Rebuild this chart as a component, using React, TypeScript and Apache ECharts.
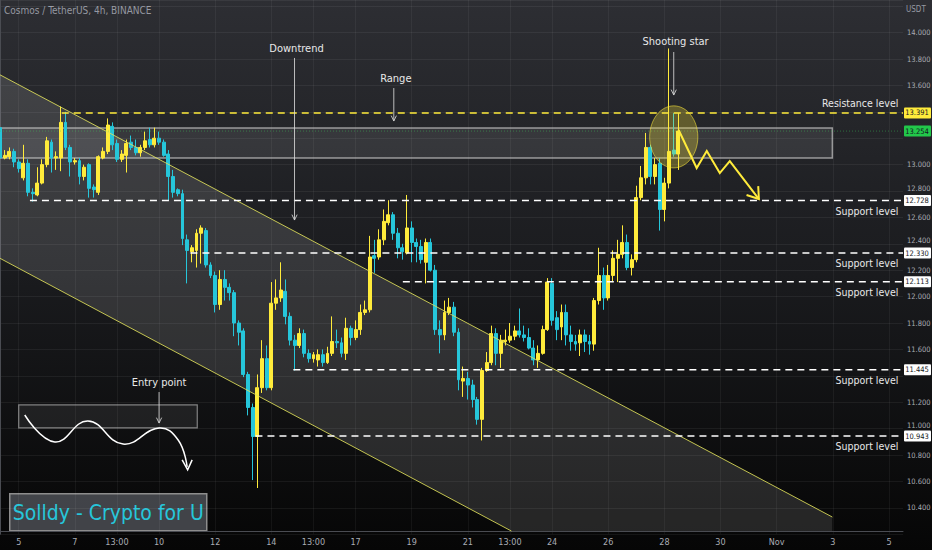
import React, { useEffect, useRef } from "react";
import * as echarts from "echarts";

// ---------- data ----------
const SLOT_COUNT = 194; // 4h slots from Oct 4 08:00
const slotLabels: Record<number, string> = {
  4: "5", 16: "7", 25: "13:00", 34: "10", 46: "12", 58: "14", 67: "13:00", 76: "17",
  88: "19", 100: "21", 109: "13:00", 118: "24", 130: "26", 142: "28", 154: "30",
  166: "Nov", 178: "3", 190: "5",
};

// [open, close, low, high]
const ohlc: number[][] = [
  [13.28, 13.05, 13.04, 13.30], [13.05, 13.07, 13.04, 13.11], [13.06, 13.10, 13.04, 13.13], [13.10, 13.02, 12.98, 13.12],
  [13.02, 12.97, 12.94, 13.04], [12.90, 13.01, 12.88, 13.15], [13.01, 12.79, 12.76, 13.04], [12.79, 12.78, 12.72, 12.82],
  [12.77, 12.86, 12.76, 12.98], [12.86, 13.00, 12.85, 13.04], [13.00, 13.18, 12.98, 13.21], [13.17, 13.05, 12.94, 13.19],
  [13.05, 13.06, 12.96, 13.10], [13.05, 13.32, 12.95, 13.44], [13.32, 13.13, 13.11, 13.40], [13.13, 13.02, 12.91, 13.15],
  [13.02, 13.03, 13.00, 13.05], [13.03, 12.91, 12.85, 13.05], [12.91, 12.98, 12.88, 13.00], [13.00, 12.82, 12.75, 13.01],
  [12.83, 12.81, 12.75, 12.85], [12.79, 13.06, 12.77, 13.07], [13.05, 13.10, 13.04, 13.13], [13.10, 13.30, 13.08, 13.35],
  [13.29, 13.15, 13.11, 13.32], [13.16, 13.04, 13.02, 13.19], [13.04, 13.08, 13.02, 13.11], [13.07, 13.16, 12.94, 13.19],
  [13.17, 13.13, 13.11, 13.22], [13.13, 13.09, 13.07, 13.19], [13.09, 13.13, 13.06, 13.15], [13.13, 13.18, 13.11, 13.25],
  [13.19, 13.15, 13.13, 13.28], [13.15, 13.20, 13.13, 13.28], [13.20, 13.17, 13.15, 13.25], [13.17, 13.07, 13.06, 13.19],
  [13.08, 12.91, 12.73, 13.11], [12.91, 12.79, 12.75, 12.96], [12.81, 12.78, 12.76, 12.82], [12.78, 12.44, 12.39, 12.81],
  [12.43, 12.35, 12.10, 12.47], [12.34, 12.37, 12.26, 12.39], [12.35, 12.48, 12.22, 12.51], [12.48, 12.52, 12.25, 12.54],
  [12.50, 12.24, 12.22, 12.52], [12.24, 12.16, 12.14, 12.26], [12.16, 11.94, 11.88, 12.19], [11.94, 12.13, 11.90, 12.20],
  [12.13, 12.07, 11.97, 12.20], [12.07, 12.03, 11.97, 12.10], [12.03, 11.80, 11.70, 12.05], [11.80, 11.73, 11.63, 11.82],
  [11.74, 11.41, 11.39, 11.76], [11.41, 11.16, 11.10, 11.43], [11.16, 10.94, 10.61, 11.19], [10.94, 11.31, 10.55, 11.41],
  [11.31, 11.53, 11.27, 11.67], [11.53, 11.31, 11.29, 11.63], [11.31, 11.95, 11.29, 12.11], [11.95, 11.99, 11.90, 12.13],
  [11.99, 12.05, 11.96, 12.26], [12.04, 11.85, 11.79, 12.13], [11.85, 11.67, 11.63, 11.88], [11.67, 11.63, 11.44, 11.71],
  [11.63, 11.72, 11.61, 11.76], [11.72, 11.57, 11.54, 11.75], [11.57, 11.53, 11.50, 11.60], [11.53, 11.56, 11.50, 11.58],
  [11.52, 11.56, 11.47, 11.60], [11.56, 11.50, 11.47, 11.60], [11.50, 11.57, 11.49, 11.62], [11.57, 11.66, 11.55, 11.85],
  [11.66, 11.65, 11.61, 11.75], [11.65, 11.57, 11.54, 11.69], [11.57, 11.76, 11.52, 11.84], [11.76, 11.69, 11.63, 11.78],
  [11.69, 11.75, 11.67, 11.82], [11.75, 11.88, 11.71, 11.94], [11.88, 11.90, 11.86, 11.97], [11.90, 12.30, 11.88, 12.46],
  [12.31, 12.29, 12.18, 12.43], [12.30, 12.43, 12.28, 12.51], [12.43, 12.57, 12.39, 12.66], [12.56, 12.62, 12.54, 12.73],
  [12.62, 12.48, 12.43, 12.64], [12.48, 12.37, 12.29, 12.52], [12.37, 12.34, 12.28, 12.40], [12.33, 12.52, 12.32, 12.77],
  [12.52, 12.41, 12.26, 12.57], [12.41, 12.38, 12.26, 12.44], [12.38, 12.28, 12.25, 12.43], [12.26, 12.41, 12.10, 12.44],
  [12.41, 12.20, 12.19, 12.44], [12.20, 11.75, 11.71, 12.24], [11.75, 11.71, 11.57, 11.82], [11.71, 11.88, 11.67, 11.97],
  [11.88, 11.92, 11.86, 11.99], [11.92, 11.73, 11.70, 11.96], [11.73, 11.37, 11.29, 11.76], [11.36, 11.38, 11.24, 11.47],
  [11.38, 11.33, 11.22, 11.43], [11.33, 11.22, 11.16, 11.37], [11.22, 11.07, 11.03, 11.24], [11.07, 11.44, 10.91, 11.46],
  [11.44, 11.50, 11.43, 11.58], [11.50, 11.72, 11.48, 11.78], [11.72, 11.57, 11.48, 11.76], [11.57, 11.67, 11.46, 11.71],
  [11.66, 11.67, 11.63, 11.75], [11.67, 11.70, 11.65, 11.80], [11.70, 11.74, 11.67, 11.78], [11.74, 11.71, 11.69, 11.91],
  [11.71, 11.69, 11.66, 11.78], [11.69, 11.61, 11.60, 11.76], [11.61, 11.52, 11.48, 11.67], [11.52, 11.57, 11.46, 11.63],
  [11.57, 11.75, 11.56, 11.78], [11.75, 12.11, 11.74, 12.14], [12.10, 11.82, 11.78, 12.14], [11.84, 11.75, 11.67, 11.89],
  [11.77, 11.88, 11.67, 11.94], [11.88, 11.71, 11.63, 11.94], [11.71, 11.66, 11.59, 11.78], [11.66, 11.64, 11.59, 11.71],
  [11.65, 11.71, 11.55, 11.75], [11.71, 11.66, 11.58, 11.75], [11.66, 11.64, 11.56, 11.71], [11.64, 11.97, 11.59, 11.99],
  [11.97, 12.16, 11.94, 12.37], [12.16, 11.99, 11.90, 12.22], [11.99, 12.16, 11.97, 12.24], [12.16, 12.29, 12.11, 12.35],
  [12.29, 12.32, 12.11, 12.43], [12.32, 12.41, 12.29, 12.54], [12.41, 12.22, 12.20, 12.47], [12.22, 12.28, 12.16, 12.32],
  [12.28, 12.75, 12.26, 12.84], [12.75, 12.90, 12.73, 12.99], [12.90, 13.13, 12.85, 13.24], [13.13, 12.91, 12.85, 13.15],
  [12.91, 13.00, 12.85, 13.05], [13.01, 12.66, 12.50, 13.05], [12.66, 12.86, 12.57, 12.90], [12.86, 13.10, 12.82, 13.88],
  [13.11, 13.08, 13.06, 13.39], [13.08, 13.254, 12.96, 13.39],
];

const lastPrice = 13.254;

// horizontal levels: price, start slot, label
const levelPrices = [13.391, 12.728, 12.33, 12.113, 11.445, 10.943];
const levelStarts = [13.2, 6.4, 40.7, 86.1, 62.7, 54.6];
const levelLabels = ["Resistance level", "Support level", "Support level", "Support level", "Support level", "Support level"];

// price-axis labels hidden behind tags / shifted up above tags
const hiddenTicks = [13.4, 13.2, 11.4];
const raisedTicks = [12.8, 12.4, 11.0];

// drawings, in [slot, price]
const channelUpper = [[0, 13.68], [177.9, 10.33]];
const channelLower = [[0, 12.29], [109.3, 10.224]];
const channelFill = [[0, 13.68], [177.9, 10.33], [177.9, 10.224], [109.3, 10.224], [0, 12.29]];
const rangeBox = [[0, 13.277], [177.9, 13.05]];
const entryBox = [[4.0, 11.179], [42.16, 11.005]];
const wave = [[5.29, 11.103], [11.72, 10.899], [18.79, 11.058], [26.29, 10.883], [34.01, 11.005], [38.08, 10.914], [40.0, 10.71]];
const zigzag = [[145.05, 13.262], [148.9, 12.974], [151.06, 13.103], [153.84, 12.936], [155.98, 13.027], [162.2, 12.739]];
const starCircle = { center: [144.0, 13.21], edge: [149.15, 12.975] };
const notes = [
  { text: "Downtrend", at: [63.38, 13.883], from: [62.95, 13.808], to: [62.95, 12.58] },
  { text: "Range", at: [84.6, 13.656], from: [84.17, 13.58], to: [84.17, 13.33] },
  { text: "Shooting star", at: [144.4, 13.929], from: [144.0, 13.853], to: [144.0, 13.527] },
  { text: "Entry point", at: [34.0, 11.353], from: [34.0, 11.277], to: [34.0, 11.042] },
];

const FONT = "'DejaVu Sans Condensed', 'Liberation Sans Narrow', 'Noto Sans', sans-serif";
const AXIS_FONT = "'DejaVu Sans Condensed', sans-serif";
const YELLOW = "#ffeb3b";
const CYAN = "#26c6da";

function arrowHead(from: number[], to: number[], len: number, spread: number) {
  const a = Math.atan2(to[1] - from[1], to[0] - from[0]);
  return [
    [to[0] - len * Math.cos(a - spread), to[1] - len * Math.sin(a - spread)],
    [to[0], to[1]],
    [to[0] - len * Math.cos(a + spread), to[1] - len * Math.sin(a + spread)],
  ];
}

const near = (v: number, list: number[]) => list.some((t) => Math.abs(t - v) < 0.01);

export default function App() {
  const ref = useRef<HTMLDivElement>(null);
  useEffect(() => {
    if (!ref.current) return;
    const chart = echarts.init(ref.current, null, { renderer: "svg" });
    const showLabel = (i: number) => slotLabels[i] !== undefined;

    const bgRender = (_p: any, api: any) => {
      const c = (p: number[]) => api.coord(p);
      const r0 = c(rangeBox[0]);
      const r1 = c(rangeBox[1]);
      return {
        type: "group",
        children: [
          { type: "polygon", shape: { points: channelFill.map(c) }, style: { fill: "rgba(255,255,255,0.12)" } },
          {
            type: "rect",
            shape: { x: r0[0], y: r0[1], width: r1[0] - r0[0], height: r1[1] - r0[1] },
            style: { fill: "rgba(255,255,255,0.09)", stroke: "rgba(200,200,200,0.7)", lineWidth: 1.5 },
          },
        ],
      };
    };

    const fgRender = (_p: any, api: any) => {
      const c = (p: number[]) => api.coord(p);
      const children: any[] = [];
      const u0 = c(channelUpper[0]), u1 = c(channelUpper[1]);
      const l0 = c(channelLower[0]), l1 = c(channelLower[1]);
      const lineStyle = { stroke: "rgba(225,225,90,0.85)", lineWidth: 1 };
      children.push({ type: "line", shape: { x1: u0[0], y1: u0[1], x2: u1[0], y2: u1[1] }, style: lineStyle });
      children.push({ type: "line", shape: { x1: l0[0], y1: l0[1], x2: l1[0], y2: l1[1] }, style: lineStyle });
      const cp0 = c([0, lastPrice]), cp1 = c([193, lastPrice]);
      children.push({ type: "line", shape: { x1: cp0[0], y1: cp0[1], x2: cp1[0], y2: cp1[1] }, style: { stroke: "rgba(60,200,90,0.45)", lineWidth: 1, lineDash: [1, 2] } });
      levelPrices.forEach((p, i) => {
        const a = c([levelStarts[i], p]);
        const b = c([193, p]);
        const res = i === 0;
        children.push({
          type: "line",
          shape: { x1: a[0], y1: a[1], x2: b[0], y2: b[1] },
          style: { stroke: res ? YELLOW : "#ffffff", lineWidth: 1.5, lineDash: [7, 5] },
        });
        const t = c([192, p]);
        children.push({
          type: "text",
          x: t[0],
          y: t[1] + (res ? -10 : 10),
          style: { text: levelLabels[i], fill: "#e8e8e8", fontSize: 10.5, fontFamily: FONT, align: "right", verticalAlign: "middle" },
        });
      });
      const cc = c(starCircle.center), ce = c(starCircle.edge);
      children.push({
        type: "ellipse",
        shape: { cx: cc[0], cy: cc[1], rx: Math.abs(ce[0] - cc[0]), ry: Math.abs(ce[1] - cc[1]) },
        style: { fill: "rgba(255,235,59,0.28)", stroke: "rgba(255,235,59,0.55)", lineWidth: 1 },
      });
      const zz = zigzag.map(c);
      children.push({ type: "polyline", shape: { points: zz }, style: { stroke: YELLOW, lineWidth: 2, fill: null } });
      children.push({ type: "polyline", shape: { points: arrowHead(zz[zz.length - 2], zz[zz.length - 1], 13, 0.6) }, style: { stroke: YELLOW, lineWidth: 2, fill: null } });
      const e0 = c(entryBox[0]), e1 = c(entryBox[1]);
      children.push({
        type: "rect",
        shape: { x: e0[0], y: e0[1], width: e1[0] - e0[0], height: e1[1] - e0[1] },
        style: { fill: "rgba(255,255,255,0.07)", stroke: "rgba(200,200,200,0.6)", lineWidth: 1.2 },
      });
      const wv = wave.map(c);
      children.push({ type: "polyline", shape: { points: wv, smooth: 0.45 }, style: { stroke: "#ffffff", lineWidth: 1.5, fill: null } });
      const tip = wv[wv.length - 1];
      children.push({ type: "polyline", shape: { points: [[tip[0] - 5, tip[1] - 7], [tip[0] + 0.5, tip[1] + 3], [tip[0] + 5, tip[1] - 7]] }, style: { stroke: "#ffffff", lineWidth: 1.5, fill: null } });
      notes.forEach((n) => {
        const t = c(n.at), f = c(n.from), to = c(n.to);
        children.push({ type: "text", x: t[0], y: t[1], style: { text: n.text, fill: "#e8e8e8", fontSize: 11, fontFamily: FONT, align: "center", verticalAlign: "middle" } });
        children.push({ type: "line", shape: { x1: f[0], y1: f[1], x2: to[0], y2: to[1] }, style: { stroke: "rgba(215,215,215,0.85)", lineWidth: 1 } });
        children.push({ type: "polyline", shape: { points: arrowHead(f, to, 6, 0.45) }, style: { stroke: "rgba(215,215,215,0.85)", lineWidth: 1, fill: null } });
      });
      return { type: "group", children };
    };

    const tagPrices = [13.391, lastPrice, 12.728, 12.33, 12.113, 11.445, 10.943];
    const tagRender = (_p: any, api: any) => {
      const children: any[] = [];
      tagPrices.forEach((p, i) => {
        const pt = api.coord([193, p]);
        const bg = i === 0 ? YELLOW : i === 1 ? "#22c84a" : "#ffffff";
        children.push({ type: "rect", shape: { x: pt[0] + 1, y: pt[1] - 5.5, width: 27, height: 11, r: 1 }, style: { fill: bg } });
        children.push({
          type: "text",
          x: pt[0] + 14,
          y: pt[1],
          style: { text: p.toFixed(3), fill: "#131722", fontSize: 7.5, fontFamily: AXIS_FONT, align: "center", verticalAlign: "middle" },
        });
      });
      return { type: "group", children };
    };

    const option: any = {
      animation: false,
      backgroundColor: {
        type: "linear", x: 0, y: 0, x2: 0, y2: 1,
        colorStops: [
          { offset: 0, color: "#2d2e33" },
          { offset: 0.5, color: "#1a1b1e" },
          { offset: 1, color: "#060606" },
        ],
      },
      grid: { left: 0, top: 0, width: 903, height: 534.2, outerBoundsMode: "none", containLabel: false },
      xAxis: [
        {
          type: "category",
          data: Array.from({ length: SLOT_COUNT }, (_, i) => String(i)),
          boundaryGap: false,
          offset: -3,
          axisLine: { lineStyle: { color: "#4a4c52" } },
          axisTick: { show: false },
          axisLabel: {
            interval: (i: number) => showLabel(i),
            formatter: (_v: string, i: number) => slotLabels[i] ?? "",
            color: "#a9acb4",
            fontSize: 9,
            margin: 6,
            fontFamily: FONT,
          },
          splitLine: { show: true, interval: (i: number) => showLabel(i), lineStyle: { color: "rgba(255,255,255,0.05)" } },
        },
        { type: "value", min: 0, max: SLOT_COUNT - 1, show: false },
      ],
      yAxis: {
        type: "value",
        position: "right",
        min: 10.2,
        max: 14.247,
        interval: 0.2,
        axisLine: { show: true, lineStyle: { color: "#4a4c52" } },
        axisTick: { show: false },
        axisLabel: {
          color: "#a9acb4",
          fontSize: 7.5,
          margin: 4,
          fontFamily: AXIS_FONT,
          showMaxLabel: false,
          formatter: (v: number) => {
            if (v < 10.3 || v > 14.1 || near(v, hiddenTicks)) return "";
            const s = v.toFixed(3);
            return near(v, raisedTicks) ? `{up|${s}}` : s;
          },
          rich: { up: { fontSize: 7.5, color: "#a9acb4", fontFamily: AXIS_FONT, padding: [0, 0, 6, 0] } },
        },
        splitLine: { lineStyle: { color: "rgba(255,255,255,0.06)" } },
      },
      graphic: [
        { type: "text", left: 4, top: 5, style: { text: "Cosmos / TetherUS, 4h, BINANCE", fill: "#9598a1", fontSize: 10, fontFamily: FONT } },
        { type: "text", left: 906, top: 5, style: { text: "USDT", fill: "#9598a1", fontSize: 8, fontFamily: AXIS_FONT } },
        {
          type: "group",
          left: 9,
          top: 493,
          children: [
            { type: "rect", shape: { x: 0, y: 0, width: 197, height: 37 }, style: { fill: "rgba(72,74,80,0.9)", stroke: "#8d8d8d", lineWidth: 1.5 } },
            { type: "text", x: 98.5, y: 19, style: { text: "Solldy - Crypto for U", fill: CYAN, fontSize: 21, fontFamily: FONT, align: "center", verticalAlign: "middle" } },
          ],
        },
      ],
      series: [
        {
          type: "custom",
          xAxisIndex: 1,
          yAxisIndex: 0,
          z: 1,
          silent: true,
          clip: true,
          data: [[50, 12]],
          renderItem: bgRender,
        },
        {
          type: "candlestick",
          xAxisIndex: 0,
          yAxisIndex: 0,
          z: 3,
          barWidth: 3.4,
          data: ohlc,
          itemStyle: { color: YELLOW, color0: CYAN, borderColor: YELLOW, borderColor0: CYAN, borderWidth: 1 },
        },
        {
          type: "custom",
          xAxisIndex: 1,
          yAxisIndex: 0,
          z: 5,
          silent: true,
          clip: true,
          data: [[50, 12]],
          renderItem: fgRender,
        },
        {
          type: "custom",
          xAxisIndex: 1,
          yAxisIndex: 0,
          z: 10,
          silent: true,
          clip: false,
          data: [[50, 12]],
          renderItem: tagRender,
        },
      ],
    };
    chart.setOption(option);
    return () => chart.dispose();
  }, []);
  return <div ref={ref} style={{ position: "fixed", left: 0, top: 0, width: 932, height: 550 }} />;
}
